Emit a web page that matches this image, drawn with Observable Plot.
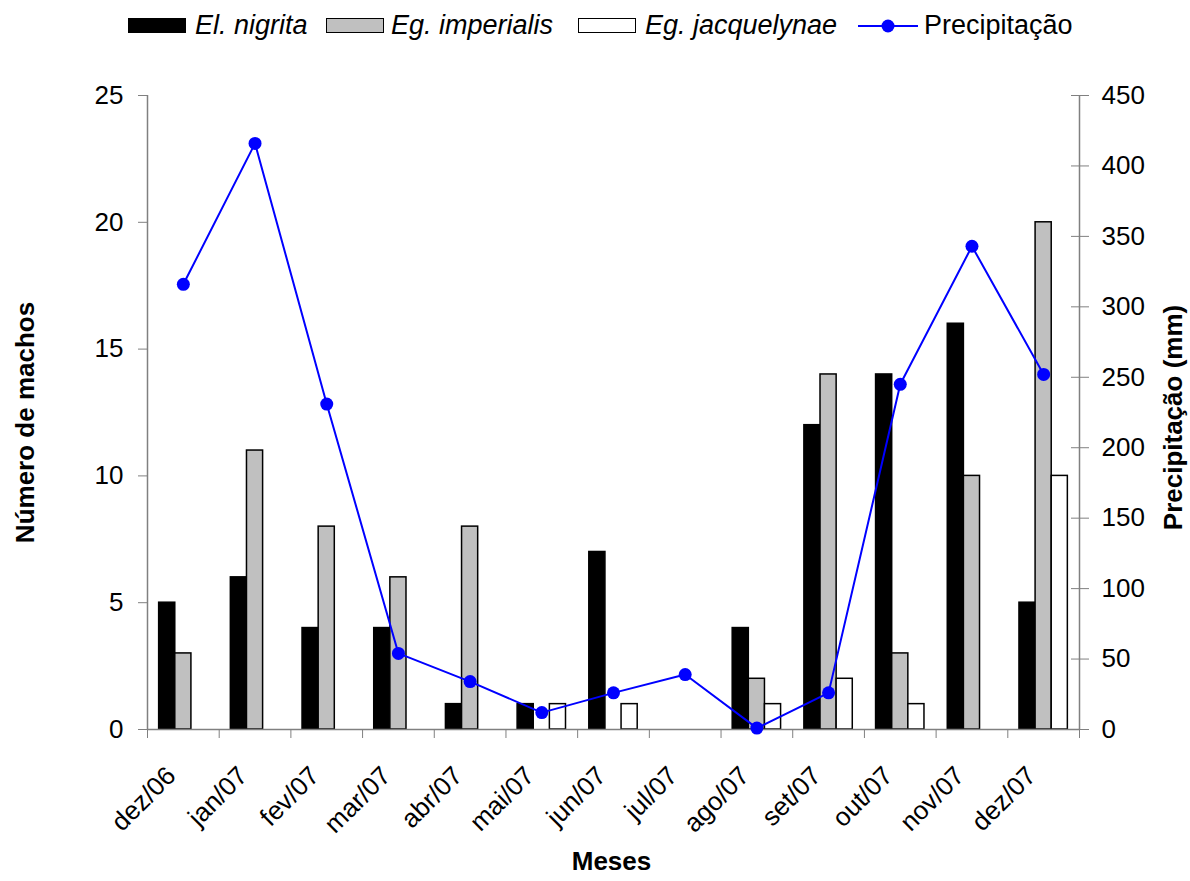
<!DOCTYPE html>
<html>
<head>
<meta charset="utf-8">
<script src="https://cdn.jsdelivr.net/npm/d3@7"></script>
<script src="https://cdn.jsdelivr.net/npm/@observablehq/plot@0.6"></script>
<style>
  body { margin: 0; background: #fff; font-family: "Liberation Sans", Arial, sans-serif; }
  #wrap { width: 1190px; }
  #legend { position: relative; height: 48px; font-size: 27px; color: #000; }
  #legend .sw { position: absolute; top: 18px; width: 56px; height: 13px; border: 1.5px solid #000; }
  #legend .lbl { position: absolute; top: 11px; line-height: 28px; white-space: nowrap; }
  #legend .it { font-style: italic; }
  #legend svg { position: absolute; top: 17px; }
</style>
</head>
<body>
<div id="wrap">
  <div id="legend"></div>
  <div id="chart"></div>
</div>
<script>
// Months of sampling
const months = ["dez/06", "jan/07", "fev/07", "mar/07", "abr/07", "mai/07", "jun/07",
                "jul/07", "ago/07", "set/07", "out/07", "nov/07", "dez/07"];

// Number of calling males per species
const nigrita     = [5, 6, 4, 4, 1, 1, 7, 0, 4, 12, 14, 16, 5];
const imperialis  = [3, 11, 8, 6, 8, 0, 0, 0, 2, 14, 3, 10, 20];
const jacquelynae = [0, 0, 0, 0, 0, 1, 1, 0, 1, 2, 1, 0, 10];

// Monthly rainfall (mm)
const precipitacao = [316, 416, 231, 54, 34, 12, 26, 39, 1, 26, 245, 343, 252];

const speciesNames = ["El. nigrita", "Eg. imperialis", "Eg. jacquelynae"];
const lineName = "Precipitação";

// Axis ticks
const leftTicks = [0, 5, 10, 15, 20, 25];
const rightTicks = [0, 50, 100, 150, 200, 250, 300, 350, 400, 450];

// Styling
const fills = ["#000000", "#c0c0c0", "#ffffff"];
const axisGray = "#808080";
const blue = "#0000ff";
const barW = 0.225;                 // bar width, in category units
const ratio = 450 / 25;            // right axis units per left axis unit

// Tidy rows for the grouped bars
const series = [nigrita, imperialis, jacquelynae];
const bars = [];
series.forEach((vals, s) => vals.forEach((v, i) => {
  if (v > 0) bars.push({month: months[i], i, s, value: v});
}));
const rain = precipitacao.map((v, i) => ({month: months[i], i, value: v}));

// Legend
const legend = document.getElementById("legend");
const swLeft = [128, 326, 578];
const txtLeft = [195, 391, 645];
speciesNames.forEach((name, s) => {
  const sw = document.createElement("div");
  sw.className = "sw";
  sw.style.left = swLeft[s] + "px";
  sw.style.background = fills[s];
  legend.appendChild(sw);
  const t = document.createElement("span");
  t.className = "lbl it";
  t.style.left = txtLeft[s] + "px";
  t.textContent = name;
  legend.appendChild(t);
});
legend.insertAdjacentHTML("beforeend",
  `<svg width="62" height="18" style="left:857px"><line x1="1" x2="61" y1="9" y2="9" stroke="${blue}" stroke-width="2"/><circle cx="31" cy="9" r="6.5" fill="${blue}"/></svg>`);
const lt = document.createElement("span");
lt.className = "lbl";
lt.style.left = "924px";
lt.textContent = lineName;
legend.appendChild(lt);

const chart = Plot.plot({
  width: 1190,
  height: 833,
  marginTop: 47,
  marginBottom: 152,
  marginLeft: 147,
  marginRight: 111,
  style: {fontFamily: "'Liberation Sans', Arial, sans-serif", fontSize: "26px", color: "#000", background: "#fff"},
  x: {type: "linear", domain: [0, months.length]},
  y: {domain: [0, 25]},
  marks: [
    // grouped bars
    Plot.rectY(bars, {
      x1: d => d.i + 0.5 + (d.s - 1.5) * barW,
      x2: d => d.i + 0.5 + (d.s - 0.5) * barW,
      y1: 0,
      y2: "value",
      fill: d => fills[d.s],
      stroke: "#000",
      strokeWidth: 1.5
    }),
    // axis lines
    Plot.ruleY([0], {stroke: axisGray, strokeWidth: 1.5}),
    Plot.ruleX([0], {stroke: axisGray, strokeWidth: 1.5}),
    Plot.ruleX([months.length], {stroke: axisGray, strokeWidth: 1.5}),
    // x tick marks at category boundaries
    Plot.axisX(d3.range(months.length + 1), {tickSize: 9, tickFormat: () => "", stroke: axisGray, label: null}),
    // month labels
    Plot.text(months, {
      x: (d, i) => i + 0.5, y: () => 0,
      text: d => d, textAnchor: "end", rotate: -45,
      dx: -12, dy: 42, fontSize: 26
    }),
    // left axis
    Plot.axisY(leftTicks, {anchor: "left", tickSize: 9, tickPadding: 15, stroke: axisGray, label: null, fontSize: 26}),
    // right axis (precipitation), ticks crossing the axis line
    Plot.axisY(rightTicks, {anchor: "right", y: d => d / ratio, tickSize: 9, tickPadding: 13,
      tickFormat: d => d, stroke: axisGray, label: null, fontSize: 26}),
    Plot.axisY(rightTicks, {anchor: "right", y: d => d / ratio, tickSize: 9, dx: -9,
      tickFormat: () => "", stroke: axisGray, label: null}),
    // precipitation line
    Plot.line(rain, {x: d => d.i + 0.5, y: d => d.value / ratio, stroke: blue, strokeWidth: 2}),
    Plot.dot(rain, {x: d => d.i + 0.5, y: d => d.value / ratio, r: 6.5, fill: blue}),
    // axis titles
    Plot.text(["Número de machos"], {frameAnchor: "left", textAnchor: "middle", text: d => d, rotate: -90,
      dx: -122, dy: 10, fontWeight: "bold", fontSize: 26}),
    Plot.text(["Precipitação (mm)"], {frameAnchor: "right", textAnchor: "middle", text: d => d, rotate: -90,
      dx: 94, dy: 5, fontWeight: "bold", fontSize: 26}),
    Plot.text(["Meses"], {frameAnchor: "bottom", textAnchor: "middle", text: d => d,
      dx: -2, dy: 140, fontWeight: "bold", fontSize: 26})
  ]
});
document.getElementById("chart").appendChild(chart);
</script>
</body>
</html>
